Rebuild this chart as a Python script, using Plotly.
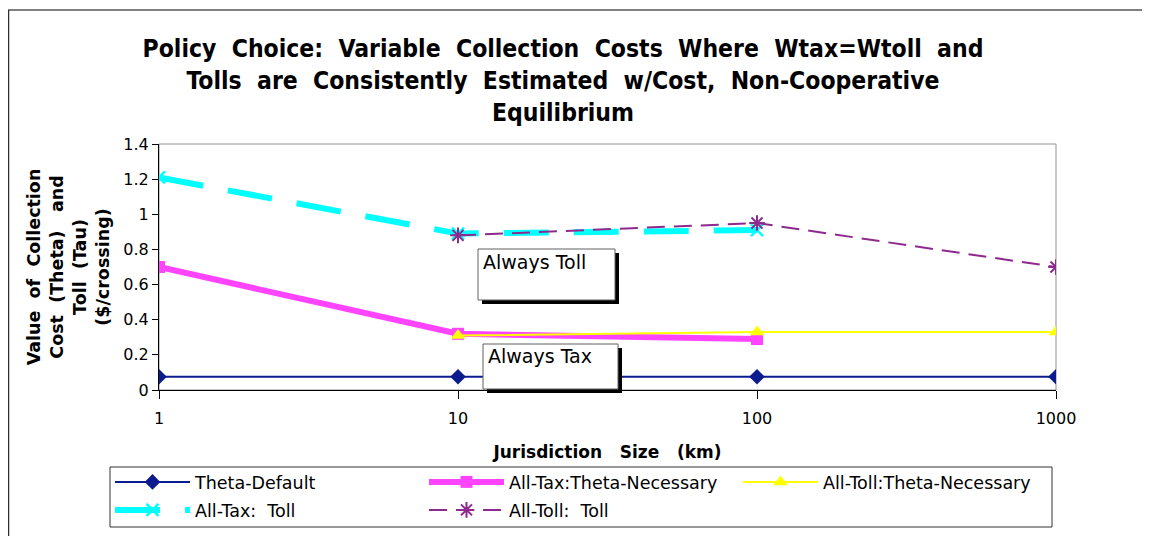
import plotly.graph_objects as go

# ---- data ----
jurisdiction_km = [1, 10, 100, 1000]
theta_default = [0.075, 0.075, 0.075, 0.075]
tax_theta_x = [1, 10, 100]
tax_theta_necessary = [0.70, 0.32, 0.29]
toll_theta_x = [10, 100, 1000]
toll_theta_necessary = [0.31, 0.33, 0.33]
tax_toll_x = [1, 10, 100]
tax_toll = [1.21, 0.89, 0.91]
toll_toll_x = [10, 100, 1000]
toll_toll = [0.88, 0.95, 0.70]
x_ticks = [1, 10, 100, 1000]
y_ticks = [0, 0.2, 0.4, 0.6, 0.8, 1, 1.2, 1.4]
y_tick_text = ["0", "0.2", "0.4", "0.6", "0.8", "1", "1.2", "1.4"]

# ---- geometry (page pixels; the figure sits 8px in from the page corner) ----
W, H = 1150, 536
OFF = 8
L, R, T, B = 159, 1056, 144, 390          # plot area in page pixels
PW, PH = R - L, B - T

def px(x):
    return (x - L) / PW

def py(y):
    return (B - y) / PH

FONT = "DejaVu Sans, Verdana, sans-serif"
NB = "\u00a0"

fig = go.Figure()
fig.add_trace(go.Scatter(
    x=jurisdiction_km, y=theta_default, name="Theta-Default", mode="lines+markers",
    line=dict(color="#0c1b8e", width=2),
    marker=dict(symbol="diamond", size=12, color="#0c1b8e"), legend="legend"))
fig.add_trace(go.Scatter(
    x=tax_theta_x, y=tax_theta_necessary, name="All-Tax:Theta-Necessary", mode="lines+markers",
    line=dict(color="#ff44ff", width=6),
    marker=dict(symbol="square", size=12, color="#ff44ff"), legend="legend"))
fig.add_trace(go.Scatter(
    x=toll_theta_x, y=toll_theta_necessary, name="All-Toll:Theta-Necessary", mode="lines+markers",
    line=dict(color="#ffff00", width=2),
    marker=dict(symbol="triangle-up", size=13, color="#ffff00"), legend="legend"))
fig.add_trace(go.Scatter(
    x=tax_toll_x, y=tax_toll, name="All-Tax:" + NB * 2 + "Toll", mode="lines+markers",
    line=dict(color="#00ffff", width=6, dash="45px,25px"),
    marker=dict(symbol="x-thin-open", size=12, color="#00ffff", line=dict(color="#00ffff", width=2.5)),
    legend="legend2"))
fig.add_trace(go.Scatter(
    x=toll_toll_x, y=toll_toll, name="All-Toll:" + NB * 2 + "Toll", mode="lines+markers",
    line=dict(color="#8e2a8e", width=2, dash="18px,9px"),
    marker=dict(symbol="asterisk-open", size=13, color="#8e2a8e", line=dict(color="#8e2a8e", width=2)),
    legend="legend2"))

shapes = []
# outer chart border (top gray, left dark)
shapes.append(dict(type="line", xref="paper", yref="paper", x0=px(OFF), x1=px(OFF + W), y0=py(10), y1=py(10),
                   line=dict(color="#808080", width=2), layer="below"))
shapes.append(dict(type="line", xref="paper", yref="paper", x0=px(OFF + 0.5), x1=px(OFF + 0.5), y0=py(10), y1=py(OFF + H),
                   line=dict(color="#303030", width=1.5), layer="below"))
# plot frame (gray)
shapes.append(dict(type="rect", xref="paper", yref="paper", x0=0, x1=1, y0=0, y1=1,
                   line=dict(color="#909090", width=1), layer="below"))
# legend frame
shapes.append(dict(type="rect", xref="paper", yref="paper", x0=px(110), x1=px(1052), y0=py(527), y1=py(467),
                   line=dict(color="#333333", width=1), fillcolor="white", layer="below"))

# text boxes with shadows
def box(x0, y0, x1, y1):
    shapes.append(dict(type="rect", xref="paper", yref="paper", x0=px(x0 + 4), x1=px(x1 + 4),
                       y0=py(y1 + 4), y1=py(y0 + 4), line=dict(width=0), fillcolor="black", layer="above"))
    shapes.append(dict(type="rect", xref="paper", yref="paper", x0=px(x0), x1=px(x1),
                       y0=py(y1), y1=py(y0), line=dict(color="#606060", width=1), fillcolor="white", layer="above"))
box(478, 249, 615, 300)
box(483, 344, 618, 389)

annotations = [
    dict(text="Always Toll", xref="paper", yref="paper", x=px(481), y=py(249), xanchor="left", yanchor="top",
         showarrow=False, font=dict(family=FONT, size=19, color="black")),
    dict(text="Always Tax", xref="paper", yref="paper", x=px(486), y=py(343), xanchor="left", yanchor="top",
         showarrow=False, font=dict(family=FONT, size=19, color="black")),
]

sp2 = NB * 2
sp3 = NB * 3
legend_common = dict(orientation="h", xanchor="left", yanchor="top",
                     bgcolor="rgba(0,0,0,0)", borderwidth=0,
                     itemwidth=75, entrywidth=224, entrywidthmode="pixels",
                     font=dict(family=FONT, size=17.5, color="black"), traceorder="normal")

fig.update_layout(
    width=W, height=H,
    margin=dict(l=L - OFF, r=W - (R - OFF), t=T - OFF, b=H - (B - OFF), autoexpand=False),
    paper_bgcolor="white", plot_bgcolor="white",
    title=dict(
        text="<b>Policy" + sp2 + "Choice:" + sp2 + "Variable" + sp2 + "Collection" + sp2 + "Costs" + sp2 +
             "Where" + sp2 + "Wtax=Wtoll" + sp2 + "and<br>Tolls" + sp2 + "are" + sp2 + "Consistently" + sp2 +
             "Estimated" + sp2 + "w/Cost," + sp2 + "Non-Cooperative<br>Equilibrium</b>",
        x=(563 - OFF) / W, xanchor="center", y=1 - 49 / H, yanchor="top",
        font=dict(family="Liberation Sans Narrow, DejaVu Sans Condensed, Arial Narrow, sans-serif",
                  size=24.5, color="black")),
    xaxis=dict(type="log", range=[0, 3], tickvals=x_ticks, ticktext=[str(v) for v in x_ticks],
               showgrid=False, zeroline=False, showline=True, linecolor="black", linewidth=1,
               ticks="outside", ticklen=8, tickcolor="black", ticklabelstandoff=6,
               tickfont=dict(family=FONT, size=16, color="black"),
               title=dict(text="<b>Jurisdiction" + sp3 + "Size" + sp3 + "(km)</b>", standoff=18,
                          font=dict(family=FONT, size=17, color="black"))),
    yaxis=dict(range=[0, 1.4], tickvals=y_ticks, ticktext=y_tick_text,
               showgrid=False, zeroline=False, showline=True, linecolor="black", linewidth=1,
               ticks="outside", ticklen=6, tickcolor="black",
               tickfont=dict(family=FONT, size=16, color="black"),
               title=dict(text="<b>Value" + sp2 + "of" + sp2 + "Collection<br>Cost" + sp2 + "(Theta)" + sp3 +
                               "and<br>Toll" + sp2 + "(Tau)<br>($/crossing)</b>",
                          standoff=9, font=dict(family=FONT, size=17.5, color="black"))),
    legend=dict(x=px(110), y=py(464), **legend_common),
    legend2=dict(x=px(110), y=py(492), **legend_common),
    shapes=shapes, annotations=annotations,
    showlegend=True,
)

fig.write_html("out.html")
